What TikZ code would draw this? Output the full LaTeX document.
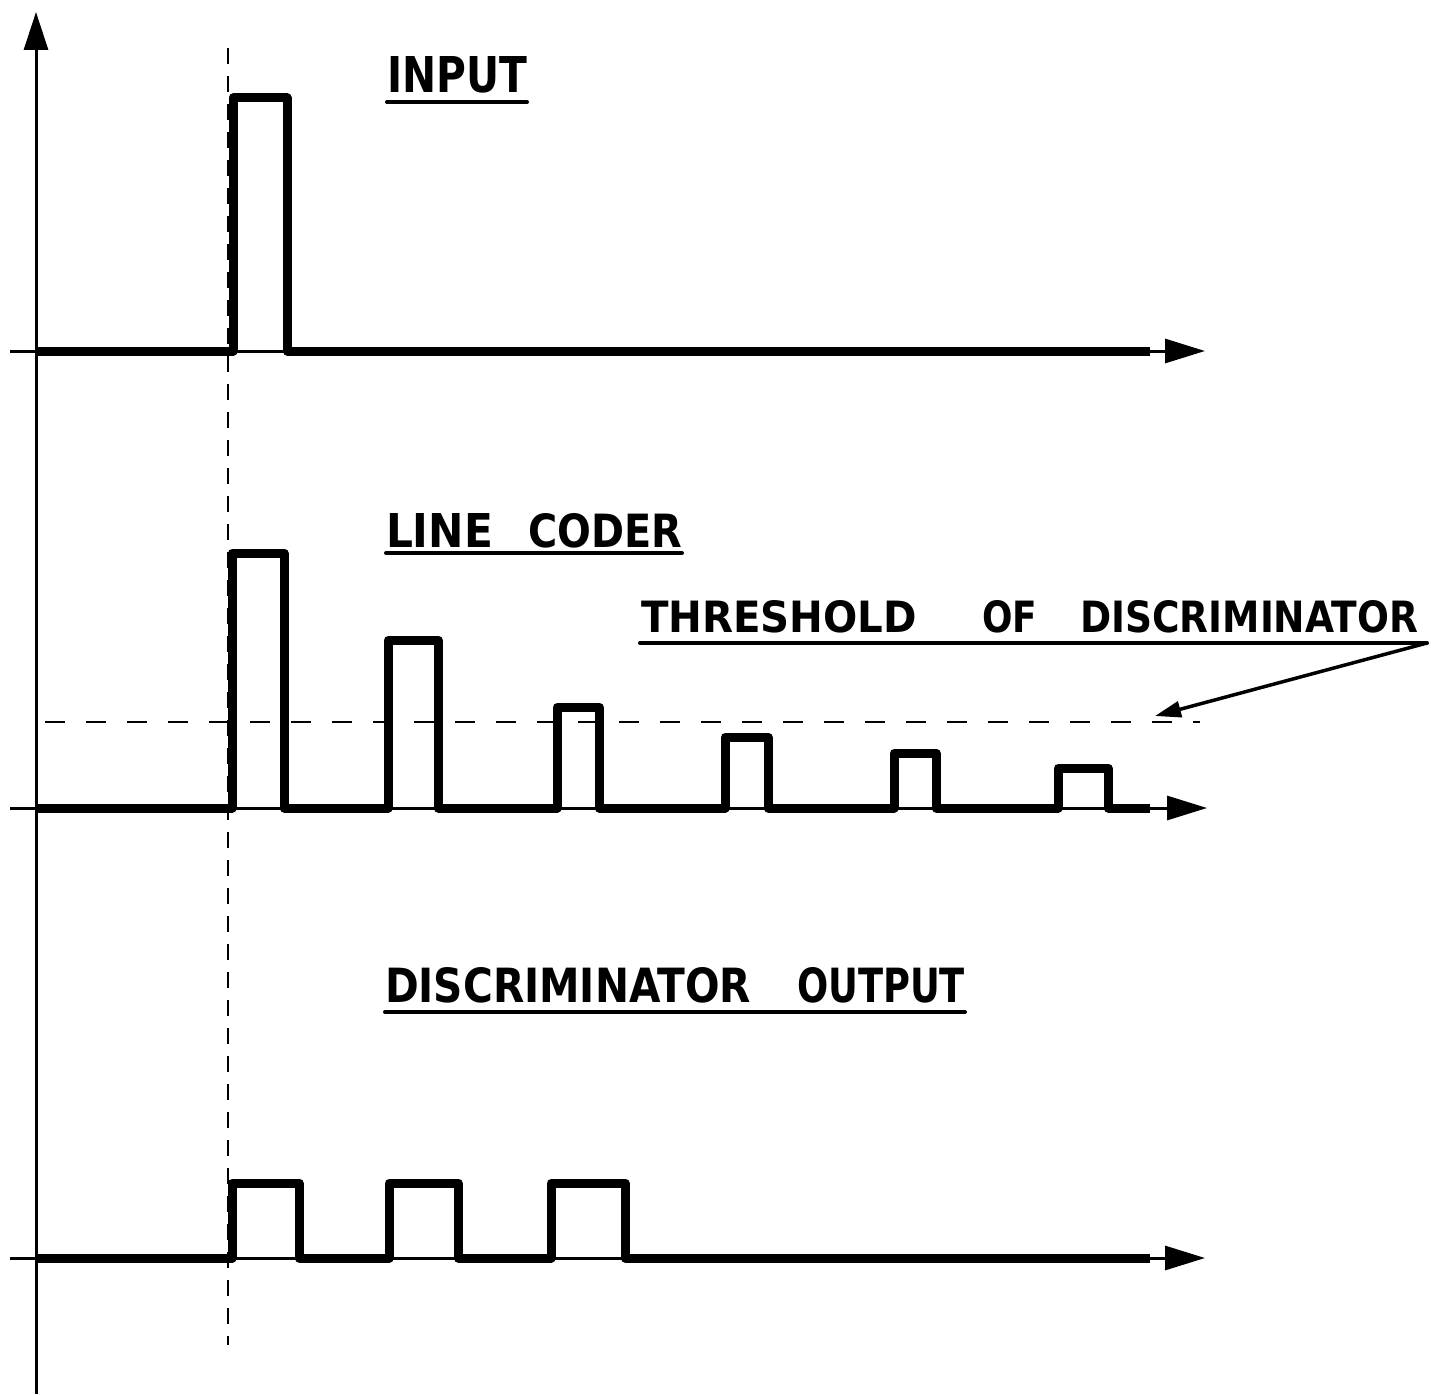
\documentclass[tikz,border=0pt]{standalone}
\usepackage{fontspec}
\usepackage{graphicx}
\usetikzlibrary{arrows.meta}
\newfontfamily\lblfont{DejaVu Sans}[BoldFont={DejaVu Sans Bold}]
\newcommand{\fitword}[3]{\resizebox{#1pt}{#2pt}{\lblfont\bfseries #3}}
\tikzset{
  axisline/.style={line width=3pt, line cap=butt},
  hhead/.style={-{Triangle[length=40pt,width=24pt]}},
  vhead/.style={-{Triangle[length=38pt,width=24pt]}},
  trace/.style={line width=9pt, line join=round, line cap=butt},
  dashv/.style={line width=2pt, dash pattern=on 16pt off 12pt},
  dashh/.style={line width=2pt, dash pattern=on 20pt off 21pt},
  uline/.style={line width=4pt, line cap=round},
  word/.style={inner sep=0pt, outer sep=0pt, anchor=base west},
  pointer/.style={line width=3.5pt, -{Triangle[length=26pt,width=16pt]}}
}
\begin{document}
\begin{tikzpicture}[x=1pt,y=-1pt]
\useasboundingbox (0,0) rectangle (1431,1394);
% vertical axis
\coordinate (vb) at (36,1394);
\coordinate (vt) at (36,12);
\draw[axisline,vhead] (vb) -- (vt);
% dashed vertical marker
\coordinate (db) at (228,48);
\coordinate (de) at (228,1345);
\draw[dashv] (db) -- (de);
% horizontal axes
\coordinate (a1s) at (10,351);   \coordinate (a1e) at (1205,351);
\coordinate (a2s) at (10,808);   \coordinate (a2e) at (1207,808);
\coordinate (a3s) at (10,1258);  \coordinate (a3e) at (1205,1258);
\draw[axisline,hhead] (a1s) -- (a1e);
\draw[axisline,hhead] (a2s) -- (a2e);
\draw[axisline,hhead] (a3s) -- (a3e);
% input trace
\draw[trace] (36,351) -- (233,351) -- (233,98) -- (287,98) -- (287,351) -- (1150,351);
% line coder trace
\draw[trace] (36,808)
  -- (232,808) -- (232,553) -- (284,553) -- (284,808)
  -- (388,808) -- (388,640) -- (438,640) -- (438,808)
  -- (557,808) -- (557,707) -- (599,707) -- (599,808)
  -- (725,808) -- (725,737) -- (768,737) -- (768,808)
  -- (894,808) -- (894,753) -- (936,753) -- (936,808)
  -- (1058,808) -- (1058,768) -- (1108,768) -- (1108,808)
  -- (1150,808);
% discriminator output trace
\draw[trace] (36,1258)
  -- (232,1258) -- (232,1183) -- (299,1183) -- (299,1258)
  -- (389,1258) -- (389,1183) -- (458,1183) -- (458,1258)
  -- (551,1258) -- (551,1183) -- (625,1183) -- (625,1258)
  -- (1150,1258);
% threshold line
\coordinate (ts) at (45,722);
\coordinate (te) at (1200,722);
\draw[dashh] (ts) -- (te);
% labels
\node[word] (input) at (387,93) {\fitword{140}{36}{INPUT}};
\draw[uline] (387,102) -- (527,102);
\node[word] (line) at (386,547) {\fitword{107}{34}{LINE}};
\node[word] (coder) at (528,547) {\fitword{154}{34}{CODER}};
\draw[uline] (386,553) -- (682,553);
\node[word] (thr) at (641,632) {\fitword{276}{32}{THRESHOLD}};
\node[word] (of) at (982,632) {\fitword{55}{32}{OF}};
\node[word] (disc) at (1080,632) {\fitword{338}{32}{DISCRIMINATOR}};
\coordinate (ulend) at (1427,643);
\draw[uline] (640,643) -- (ulend);
\coordinate (ptip) at (1155,716);
\draw[pointer] (ulend) -- (ptip);
\node[word] (disc2) at (385,1002) {\fitword{366}{35}{DISCRIMINATOR}};
\node[word] (out) at (797,1002) {\fitword{168}{35}{OUTPUT}};
\draw[uline] (385,1012) -- (965,1012);
\end{tikzpicture}
\end{document}
